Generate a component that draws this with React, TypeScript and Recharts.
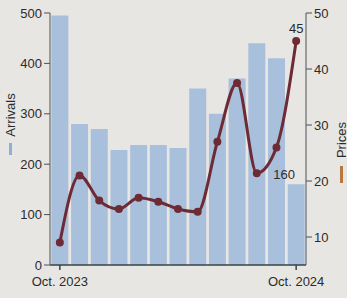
import { ComposedChart, Bar, Line, XAxis, YAxis, LabelList } from "recharts"

const months = [
  "Oct. 2023", "Nov. 2023", "Dec. 2023", "Jan. 2024", "Feb. 2024", "Mar. 2024", "Apr. 2024",
  "May 2024", "Jun. 2024", "Jul. 2024", "Aug. 2024", "Sep. 2024", "Oct. 2024",
]
const arrivals = [495, 280, 270, 228, 238, 238, 232, 350, 300, 370, 440, 410, 160]
const prices = [9, 21, 16.5, 15, 17, 16.3, 15, 14.5, 27, 37.5, 21.4, 26, 45]
const arrivalTicks = [0, 100, 200, 300, 400, 500]
const priceTicks = [10, 20, 30, 40, 50]
const xTicks = ["Oct. 2023", "Oct. 2024"]

const data = months.map((m, i) => ({ month: m, arrivals: arrivals[i], price: prices[i] }))

const BG = "#e7e6e3"
const BAR = "#a9c0dc"
const LINE = "#6e2b35"
const INK = "#2b2b2b"
const FONT = "'Liberation Sans', Arial, sans-serif"
const tick = { fontSize: 13, fill: INK, fontFamily: FONT }
const last = months.length - 1

function LastBarLabel(props: any) {
  const { x, y, width, value, index } = props
  if (index !== last) return null
  return (
    <text x={x + width / 2 - 12} y={y - 5} textAnchor="middle" {...tick}>
      {value}
    </text>
  )
}

function LastPointLabel(props: any) {
  const { x, y, value, index } = props
  if (index !== last) return null
  return (
    <text x={x} y={y - 8} textAnchor="middle" {...tick}>
      {value}
    </text>
  )
}

export default function App() {
  return (
    <div style={{ position: "absolute", left: 0, top: 0, width: 347, height: 298, background: BG, fontFamily: FONT }}>
      <ComposedChart
        width={347}
        height={298}
        data={data}
        margin={{ top: 13, right: 11, left: 0, bottom: 1 }}
        barCategoryGap="7%"
      >
        <XAxis
          dataKey="month"
          ticks={xTicks}
          interval={0}
          tick={{ ...tick, dy: 5 }}
          stroke="#34434d"
          strokeWidth={1.5}
          tickLine={{ stroke: "#34434d" }}
          tickSize={5}
          height={32}
        />
        <YAxis
          yAxisId="left"
          domain={[0, 500]}
          ticks={arrivalTicks}
          tick={tick}
          stroke="#4a5258"
          tickSize={6}
          width={50}
        />
        <YAxis
          yAxisId="right"
          orientation="right"
          domain={[5, 50]}
          ticks={priceTicks}
          tick={tick}
          stroke="#4a5258"
          tickSize={6}
          width={30}
        />
        <Bar yAxisId="left" dataKey="arrivals" fill={BAR} isAnimationActive={false}>
          <LabelList dataKey="arrivals" content={LastBarLabel} />
        </Bar>
        <Line
          yAxisId="right"
          type="monotone"
          dataKey="price"
          stroke={LINE}
          strokeWidth={3}
          dot={{ r: 2.5, fill: LINE, stroke: LINE }}
          isAnimationActive={false}
        >
          <LabelList dataKey="price" content={LastPointLabel} />
        </Line>
      </ComposedChart>
      <div
        style={{
          position: "absolute", left: 10, top: 115, transform: "translate(-50%, -50%) rotate(-90deg)",
          fontSize: 13, color: INK, whiteSpace: "nowrap",
        }}
      >
        Arrivals
      </div>
      <div style={{ position: "absolute", left: 9, top: 143, width: 3, height: 12, background: "#8fb0d6" }} />
      <div
        style={{
          position: "absolute", left: 341, top: 140, transform: "translate(-50%, -50%) rotate(-90deg)",
          fontSize: 13, color: INK, whiteSpace: "nowrap",
        }}
      >
        Prices
      </div>
      <div style={{ position: "absolute", left: 340, top: 166, width: 3, height: 17, background: "#b8773f" }} />
    </div>
  )
}
